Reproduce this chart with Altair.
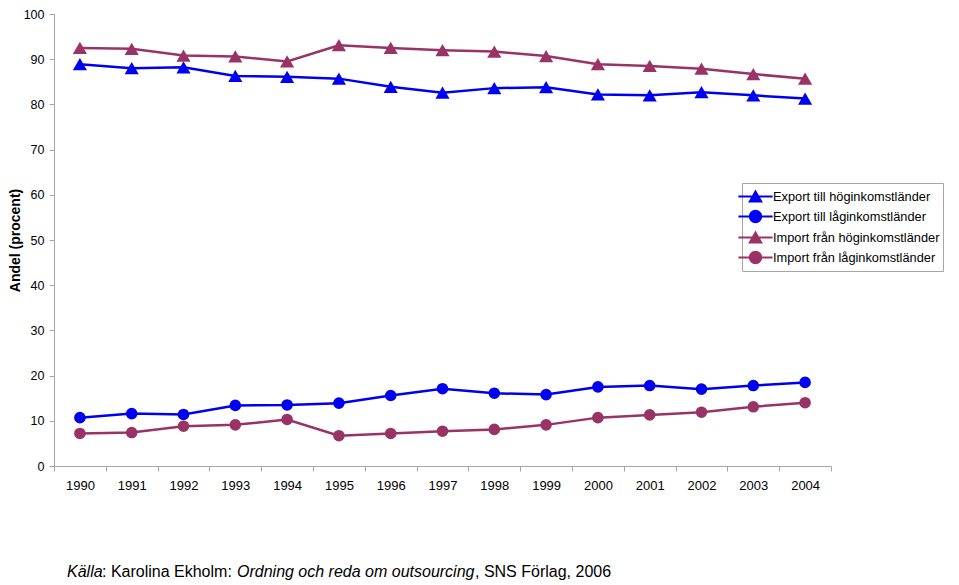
import altair as alt
import pandas as pd

years = [str(y) for y in range(1990, 2005)]
export_high = [88.9, 88.0, 88.2, 86.3, 86.1, 85.7, 83.9, 82.6, 83.6, 83.8, 82.2, 82.0, 82.7, 82.0, 81.3]
export_low = [10.7, 11.6, 11.4, 13.4, 13.5, 13.9, 15.6, 17.1, 16.1, 15.8, 17.5, 17.8, 17.0, 17.8, 18.5]
import_high = [92.5, 92.3, 90.8, 90.6, 89.5, 93.1, 92.5, 92.0, 91.7, 90.7, 88.9, 88.5, 87.9, 86.7, 85.7]
import_low = [7.2, 7.4, 8.8, 9.1, 10.3, 6.7, 7.2, 7.7, 8.1, 9.1, 10.7, 11.3, 11.9, 13.1, 14.0]

series_names = [
    "Export till höginkomstländer",
    "Export till låginkomstländer",
    "Import från höginkomstländer",
    "Import från låginkomstländer",
]
series_values = [export_high, export_low, import_high, import_low]
series_markers = ["triangle", "circle", "triangle", "circle"]
series_colors = ["#0000F0", "#0000F0", "#993366", "#993366"]

source_pieces = ["Källa", ": Karolina Ekholm: ", "Ordning och reda om outsourcing", ", SNS Förlag, 2006"]

rows = []
for name, vals, mk in zip(series_names, series_values, series_markers):
    for y, v in zip(years, vals):
        rows.append({"year": y, "value": v, "series": name, "marker": mk})
df = pd.DataFrame(rows)

FONT = "Liberation Sans"
GRAY = "#A6A6A6"

x_enc = alt.X(
    "year:O",
    sort=years,
    scale=alt.Scale(type="band", paddingInner=0, paddingOuter=0),
    axis=alt.Axis(
        title=None, labelAngle=0, tickBand="extent", labelFontSize=13,
        labelPadding=8, tickSize=5, domainColor=GRAY, tickColor=GRAY,
        labelColor="black", grid=False, labelFont=FONT,
    ),
)
y_enc = alt.Y(
    "value:Q",
    scale=alt.Scale(domain=[0, 100], nice=False),
    axis=alt.Axis(
        title="Andel (procent)", values=list(range(0, 101, 10)), grid=False,
        tickSize=5, labelPadding=5, titlePadding=1, titleFontSize=14,
        titleFontWeight="bold", titleFont=FONT, labelFont=FONT, labelFontSize=12.5,
        domainColor=GRAY, tickColor=GRAY, labelColor="black", titleColor="black",
    ),
)

tri = "M-1.8,0H1.8M-0.6,0.52L0,-0.52L0.6,0.52Z"
circ = "M-1.8,0H1.8M0.6,0A0.6,0.6,0,1,1,-0.6,0A0.6,0.6,0,1,1,0.6,0Z"
shape_expr = "indexof(datum.value, 'hög') >= 0 ? '%s' : '%s'" % (tri, circ)
color_expr = "indexof(datum.value, 'Export') >= 0 ? '%s' : '%s'" % (series_colors[0], series_colors[2])

legend = alt.Legend(
    title=None, orient="none", legendX=688, legendY=169,
    symbolSize=361, labelOffset=7, rowPadding=0, padding=3, labelLimit=400,
    strokeColor=GRAY, labelFont=FONT, labelFontSize=12.8, labelColor="black",
    symbolStrokeWidth=2, symbolOpacity=1,
    symbolType=alt.ExprRef(expr=shape_expr),
    symbolFillColor=alt.ExprRef(expr=color_expr),
    symbolStrokeColor=alt.ExprRef(expr=color_expr),
)

color_enc = alt.Color("series:N", sort=series_names,
                      scale=alt.Scale(domain=series_names, range=series_colors),
                      legend=legend)

lines = alt.Chart(df).mark_line(strokeWidth=2.5).encode(x=x_enc, y=y_enc, color=color_enc, detail="series:N")
points = alt.Chart(df).mark_point(filled=True, opacity=1, strokeWidth=0).encode(
    x=x_enc, y=y_enc,
    color=alt.Color("series:N", scale=alt.Scale(domain=series_names, range=series_colors), legend=None),
    shape=alt.Shape("marker:N", scale=alt.Scale(domain=["triangle", "circle"], range=["triangle-up", "circle"]), legend=None),
    size=alt.Size("marker:N", scale=alt.Scale(domain=["triangle", "circle"], range=[200, 135]), legend=None),
)

text_x = [13, 48, 183, 421]
text_style = ["italic", "normal", "italic", "normal"]
texts = []
for piece, tx, st in zip(source_pieces, text_x, text_style):
    texts.append(
        alt.Chart(pd.DataFrame({"t": [piece]})).mark_text(
            align="left", baseline="middle", fontSize=16, font=FONT, fontStyle=st, color="black"
        ).encode(text="t:N", x=alt.value(tx), y=alt.value(558))
    )

chart = alt.layer(lines, points, *texts).properties(
    width=777, height=452, padding={"left": 0, "top": 0, "right": 0, "bottom": 0}
).configure_view(stroke=None)

chart.save("out.html", embed_options={"renderer": "svg", "actions": False})
